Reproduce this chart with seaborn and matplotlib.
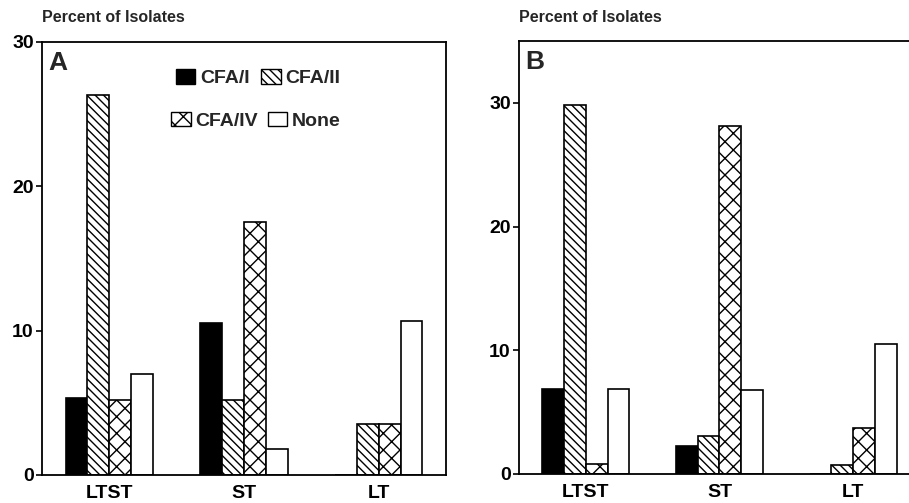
import numpy as np
import pandas as pd
import matplotlib
matplotlib.use("Agg")
import matplotlib.pyplot as plt
from matplotlib.patches import Patch
import seaborn as sns

# datos
categorias = ["LTST", "ST", "LT"]
factores = ["CFA/I", "CFA/II", "CFA/IV", "None"]

panel_a_cfa1 = [5.3, 10.5, 0.0]
panel_a_cfa2 = [26.3, 5.2, 3.5]
panel_a_cfa4 = [5.2, 17.5, 3.5]
panel_a_none = [7.0, 1.8, 10.7]

panel_b_cfa1 = [6.9, 2.3, 0.0]
panel_b_cfa2 = [29.8, 3.1, 0.7]
panel_b_cfa4 = [0.8, 28.1, 3.7]
panel_b_none = [6.9, 6.8, 10.5]

ylim_a = (0, 30)
ylim_b = (0, 35)
yticks = [0, 10, 20, 30]

RELLENO = {"CFA/I": "black", "CFA/II": "white", "CFA/IV": "white", "None": "white"}
TRAMA = {"CFA/I": "", "CFA/II": "\\\\\\\\", "CFA/IV": "xx", "None": ""}


def tabla(valores):
    filas = []
    for f, serie in zip(factores, valores):
        for c, v in zip(categorias, serie):
            filas.append({"grupo": c, "factor": f, "pct": v})
    return pd.DataFrame(filas)


sns.set_style("white")
plt.rcParams["font.family"] = ["Liberation Sans", "DejaVu Sans"]
plt.rcParams["font.weight"] = "bold"
plt.rcParams["hatch.linewidth"] = 1.0

fig = plt.figure(figsize=(9.09, 5.03), dpi=100)
ax_a = fig.add_axes([0.0462, 0.0557, 0.4445, 0.861])
ax_b = fig.add_axes([0.571, 0.0577, 0.441, 0.861])


def dibujar(ax, df, ylim, letra):
    sns.barplot(data=df, x="grupo", y="pct", hue="factor", order=categorias,
                hue_order=factores, palette=RELLENO, width=0.65,
                edgecolor="black", linewidth=1.2, saturation=1, ax=ax, legend=False)
    for f, cont in zip(factores, ax.containers):
        for barra in cont:
            barra.set_hatch(TRAMA[f])
            barra.set_edgecolor("black")
    ax.set_xlim(-0.5, 2.5)
    ax.set_ylim(*ylim)
    ax.set_yticks(yticks)
    ax.set_xlabel("")
    ax.set_ylabel("")
    for s in ax.spines.values():
        s.set_visible(True)
        s.set_color("black")
        s.set_linewidth(1.3)
    ax.tick_params(axis="y", left=True, length=4, width=1.2, pad=2,
                   labelsize=14, colors="black")
    ax.tick_params(axis="x", length=0, pad=7, labelsize=14, colors="black")
    for t in ax.get_xticklabels() + ax.get_yticklabels():
        t.set_fontweight("bold")
    ax.text(0.016, 0.978, letra, transform=ax.transAxes, ha="left", va="top",
            fontsize=19, fontweight="bold")


dibujar(ax_a, tabla([panel_a_cfa1, panel_a_cfa2, panel_a_cfa4, panel_a_none]), ylim_a, "A")
dibujar(ax_b, tabla([panel_b_cfa1, panel_b_cfa2, panel_b_cfa4, panel_b_none]), ylim_b, "B")

# leyenda en dos filas centradas
def caja(f):
    return Patch(facecolor=RELLENO[f], edgecolor="black", hatch=TRAMA[f], linewidth=1.0)

fila1 = ax_a.legend([caja("CFA/I"), caja("CFA/II")], ["CFA/I", "CFA/II"], ncol=2,
                    loc="center", bbox_to_anchor=(0.535, 0.917), frameon=False,
                    prop={"size": 14, "weight": "bold"}, handlelength=1.0,
                    handleheight=0.8, handletextpad=0.25, columnspacing=0.6,
                    borderpad=0, borderaxespad=0)
ax_a.add_artist(fila1)
ax_a.legend([caja("CFA/IV"), caja("None")], ["CFA/IV", "None"], ncol=2,
            loc="center", bbox_to_anchor=(0.53, 0.818), frameon=False,
            prop={"size": 14, "weight": "bold"}, handlelength=1.0,
            handleheight=0.8, handletextpad=0.25, columnspacing=0.5,
            borderpad=0, borderaxespad=0)

fig.text(0.0462, 0.965, "Percent of Isolates", ha="left", va="center",
         fontsize=11.5, fontweight="bold")
fig.text(0.571, 0.965, "Percent of Isolates", ha="left", va="center",
         fontsize=11.5, fontweight="bold")

fig.savefig("out.png", dpi=100)
